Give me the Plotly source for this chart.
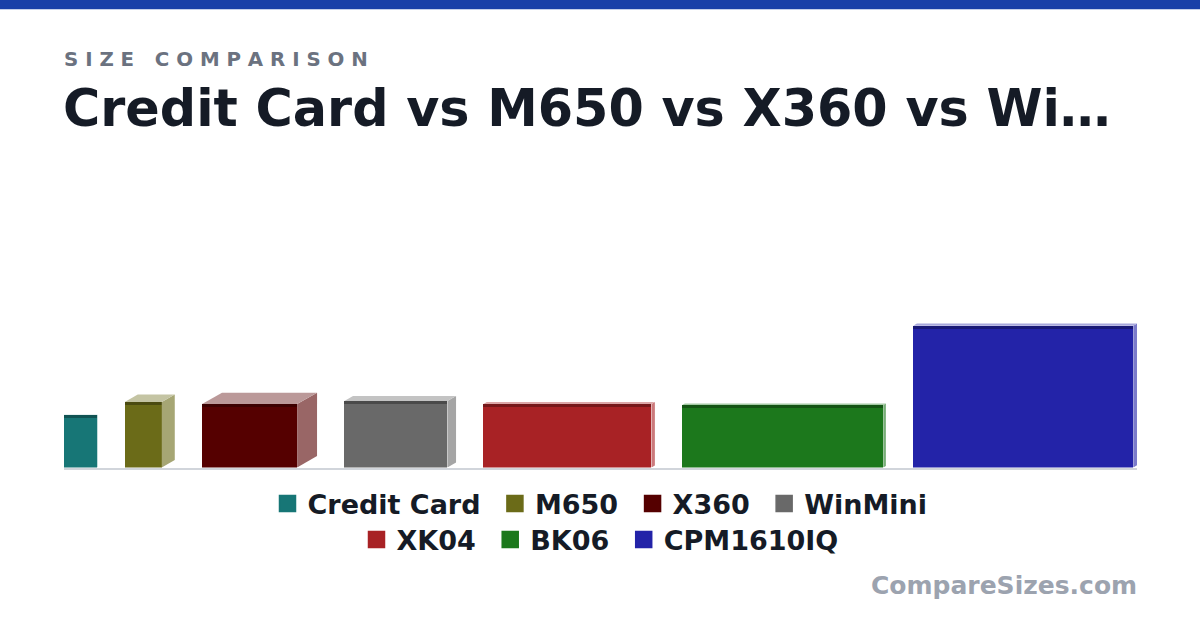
"""Size comparison chart: 3D-ish boxes drawn with Plotly."""

import plotly.graph_objects as go

# Data (display units)
NAMES = ["Credit Card", "M650", "X360", "WinMini", "XK04", "BK06", "CPM1610IQ"]
WIDTHS = [33, 37, 95, 103, 168, 201, 220]
HEIGHTS = [53, 66, 64, 67, 64, 63, 143]
DEPTHS = [0.5, 15, 23, 10, 4, 3, 4.3]
COLORS = ["#177676", "#6b6b18", "#550000", "#696969", "#a82225", "#1c781c", "#2323a8"]
LEGEND_ROW = [1, 1, 1, 1, 2, 2, 2]

# Style constants
FONT = "DejaVu Sans"
TEXT_COLOR = "#151b26"
GAP = 27.3
STRIP = 3
DX_PER_DEPTH = 0.866
DY_PER_DEPTH = 0.5
PLOT_TOP = 170
PLOT_H = 300
BASE = PLOT_TOP + PLOT_H
PX = 1 / 1073  # one pixel in paper units (plot area width)


def _mix(hex_color, other, t):
    c = [int(hex_color[i:i + 2], 16) for i in (1, 3, 5)]
    o = [int(other[i:i + 2], 16) for i in (1, 3, 5)]
    return "#" + "".join(f"{round(a + (b - a) * t):02x}" for a, b in zip(c, o))


def _py(y_pixel):
    """Pixel row on the page -> paper y."""
    return (BASE - y_pixel) / PLOT_H


lefts = []
pos = 0.0
for w, d in zip(WIDTHS, DEPTHS):
    lefts.append(pos)
    pos += w + d * DX_PER_DEPTH + GAP
x_end = lefts[-1] + WIDTHS[-1] + DEPTHS[-1] * DX_PER_DEPTH

fig = go.Figure()

for name, left, w, h, d, color in zip(NAMES, lefts, WIDTHS, HEIGHTS, DEPTHS, COLORS):
    dx, dy = d * DX_PER_DEPTH, d * DY_PER_DEPTH
    right = left + w
    # side face
    fig.add_trace(go.Scatter(
        x=[right, right + dx, right + dx, right, right],
        y=[0, dy, h + dy, h, 0],
        mode="lines", fill="toself", fillcolor=_mix(color, "#ffffff", 0.4),
        line=dict(width=0), showlegend=False, hoverinfo="skip",
    ))
    # top face
    fig.add_trace(go.Scatter(
        x=[left, left + dx, right + dx, right, left],
        y=[h, h + dy, h + dy, h, h],
        mode="lines", fill="toself", fillcolor=_mix(color, "#ffffff", 0.6),
        line=dict(width=0), showlegend=False, hoverinfo="skip",
    ))
    # front face
    fig.add_trace(go.Bar(
        x=[left + w / 2], y=[h], width=[w], marker=dict(color=color, line=dict(width=0)),
        showlegend=False, name=name,
    ))
    # darker top edge
    fig.add_trace(go.Bar(
        x=[left + w / 2], y=[STRIP], base=[h - STRIP], width=[w],
        marker=dict(color=_mix(color, "#000000", 0.3), line=dict(width=0)),
        showlegend=False, hoverinfo="skip",
    ))

# Legend entries (two rows)
for i, (name, color, row) in enumerate(zip(NAMES, COLORS, LEGEND_ROW)):
    last_in_row = i == len(NAMES) - 1 or LEGEND_ROW[i + 1] != row
    fig.add_trace(go.Scatter(
        x=[None], y=[None], mode="markers",
        name=name if last_in_row else name + "\u00a0",
        marker=dict(symbol="square", size=16, color=color, line=dict(width=1.5, color=color)),
        legend="legend" if row == 1 else "legend2",
    ))

legend_common = dict(
    orientation="h", xref="container", yref="container", x=0.5, xanchor="center",
    yanchor="middle", font=dict(family=FONT, size=27, color=TEXT_COLOR, weight=700),
    bgcolor="rgba(0,0,0,0)", itemclick=False, itemdoubleclick=False,
)

fig.update_layout(
    width=1200,
    height=630,
    margin=dict(l=64, r=63, t=PLOT_TOP, b=630 - BASE),
    plot_bgcolor="white",
    paper_bgcolor="white",
    barmode="overlay",
    bargap=0,
    showlegend=True,
    legend=dict(y=1 - 504 / 630, **legend_common),
    legend2=dict(y=1 - 540 / 630, **legend_common),
    xaxis=dict(range=[0, x_end], showgrid=False, zeroline=False, showticklabels=False,
               showline=True, linecolor="#d1d5db", linewidth=2, fixedrange=True),
    yaxis=dict(range=[0, PLOT_H], showgrid=False, zeroline=False, showticklabels=False,
               showline=False, fixedrange=True),
    shapes=[dict(type="rect", xref="paper", yref="paper", x0=-0.1, x1=1.1,
                 y0=_py(8), y1=_py(-20), fillcolor="#1a40a8", line=dict(width=0))],
    annotations=[
        dict(text="S\u00a0I\u00a0Z\u00a0E\u00a0\u00a0\u00a0C\u00a0O\u00a0M\u00a0P\u00a0A\u00a0R\u00a0I\u00a0S\u00a0O\u00a0N",
             xref="paper", yref="paper", x=-2 * PX, y=_py(58.5), xanchor="left", yanchor="middle",
             showarrow=False, font=dict(family=FONT, size=19.8, color="#6b7280", weight=700)),
        dict(text="Credit Card vs M650 vs X360 vs Wi…",
             xref="paper", yref="paper", x=-3 * PX, y=_py(108), xanchor="left", yanchor="middle",
             showarrow=False, font=dict(family=FONT, size=50.8, color=TEXT_COLOR, weight=700)),
        dict(text="CompareSizes.com",
             xref="paper", yref="paper", x=1 + 2 * PX, y=_py(589), xanchor="right", yanchor="middle",
             showarrow=False, font=dict(family=FONT, size=25, color="#9ca3af", weight=700)),
    ],
)

fig.write_html(
    "out.html",
    config={"displayModeBar": False},
    post_script="document.body.style.margin='0';",
)
